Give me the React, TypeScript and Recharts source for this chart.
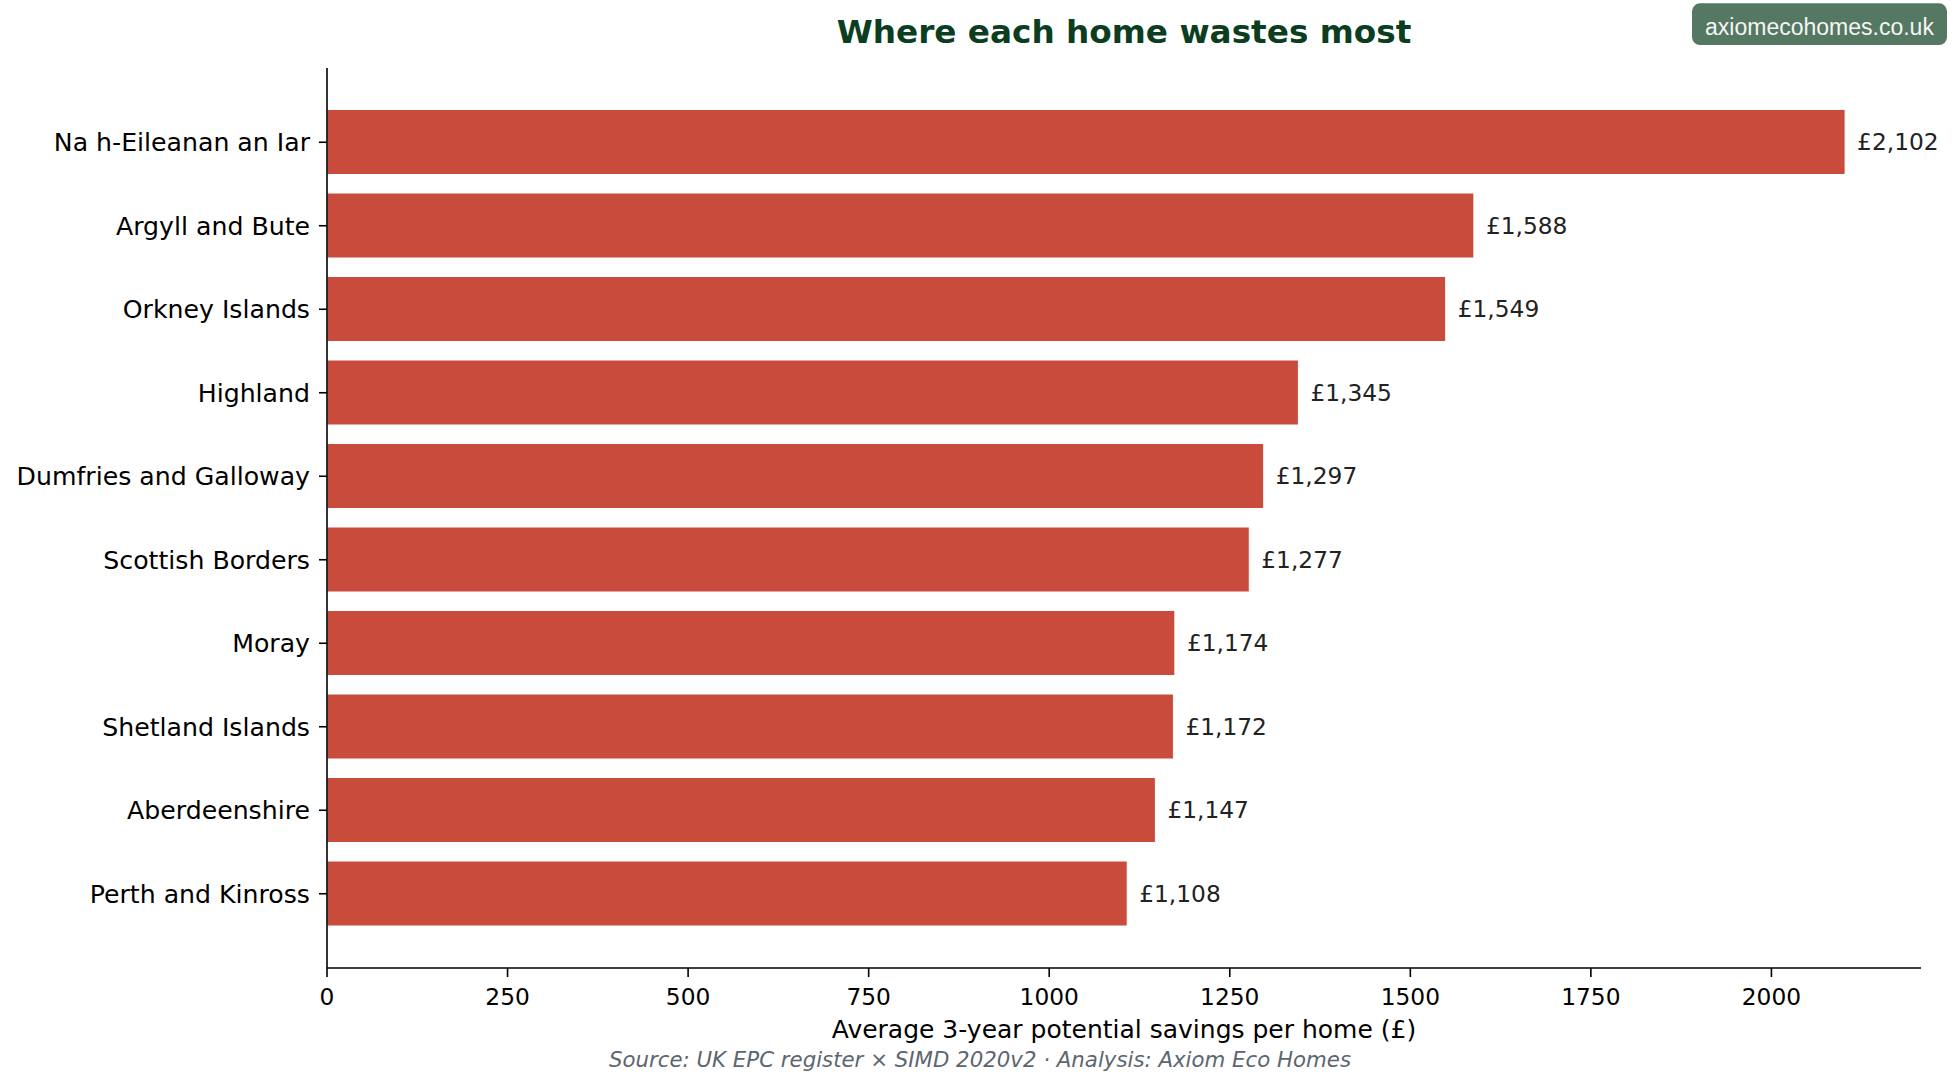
import React from 'react';
import { BarChart, Bar, XAxis, YAxis, LabelList } from 'recharts';

// council areas, top to bottom
const areas = [
    'Na h-Eileanan an Iar',
    'Argyll and Bute',
    'Orkney Islands',
    'Highland',
    'Dumfries and Galloway',
    'Scottish Borders',
    'Moray',
    'Shetland Islands',
    'Aberdeenshire',
    'Perth and Kinross',
];

// average 3-year potential savings per home (£)
const savings = [2102, 1588, 1549, 1345, 1297, 1277, 1174, 1172, 1147, 1108];

const xTicks = [0, 250, 500, 750, 1000, 1250, 1500, 1750, 2000];

const data = areas.map((name, i) => ({ name, value: savings[i] }));

const W = 1960;
const H = 1089;
const FONT = '"DejaVu Sans", sans-serif';
const BAR = '#c84b3c';

const fmtPounds = (v: any) => `£${Number(v).toLocaleString('en-GB')}`;

export default function App() {
    const xMax = Math.max(...savings) * 1.05;

    return (
        <div style={{ position: 'absolute', left: 0, top: 0, width: W, height: H, background: '#fff' }}>
            <BarChart
                width={W}
                height={H}
                data={data}
                layout="vertical"
                margin={{ top: 68, right: 39, bottom: 41, left: 0 }}
            >
                <XAxis
                    type="number"
                    domain={[0, xMax]}
                    ticks={xTicks}
                    allowDataOverflow
                    height={80}
                    stroke="#000"
                    axisLine={{ stroke: '#000', strokeWidth: 1.6 }}
                    tickLine={{ stroke: '#000', strokeWidth: 1.6 }}
                    tickSize={9}
                    tickMargin={11}
                    tick={{ fill: '#000', fontSize: 23.3, fontFamily: FONT }}
                    label={{
                        value: 'Average 3-year potential savings per home (£)',
                        position: 'insideBottom',
                        offset: 10,
                        fill: '#000',
                        fontSize: 25,
                        fontFamily: FONT,
                    }}
                />
                <YAxis
                    type="category"
                    dataKey="name"
                    width={327}
                    padding={{ top: 32.5, bottom: 32.5 }}
                    interval={0}
                    axisLine={{ stroke: '#000', strokeWidth: 1.6 }}
                    tickLine={{ stroke: '#000', strokeWidth: 1.6 }}
                    tickSize={8}
                    tickMargin={9}
                    tick={{ fill: '#000', fontSize: 25.2, fontFamily: FONT }}
                />
                <Bar dataKey="value" fill={BAR} stroke="#fff" strokeWidth={1} barSize={65} isAnimationActive={false}>
                    <LabelList
                        dataKey="value"
                        position="right"
                        offset={12}
                        formatter={fmtPounds}
                        fill="#222"
                        fontSize={23.3}
                        fontFamily={FONT}
                    />
                </Bar>
            </BarChart>

            {/* title, badge and source line */}
            <svg width={W} height={H} style={{ position: 'absolute', left: 0, top: 0, pointerEvents: 'none' }}>
                <text x={1124} y={43.3} textAnchor="middle" fill="#0b3d20" fontSize={32.7} fontWeight="bold" fontFamily={FONT}>
                    Where each home wastes most
                </text>
                <rect x={1692} y={3.3} width={255} height={41.7} rx={8} ry={8} fill="#547862" />
                <text x={1819.5} y={35} textAnchor="middle" fill="#f5f5f5" fontSize={23} fontFamily='"Liberation Sans", Arial, sans-serif'>
                    axiomecohomes.co.uk
                </text>
                <text x={980} y={1066.7} textAnchor="middle" fill="#5c6670" fontSize={21.3} fontStyle="italic" fontFamily={FONT}>
                    Source: UK EPC register × SIMD 2020v2 · Analysis: Axiom Eco Homes
                </text>
            </svg>
        </div>
    );
}
